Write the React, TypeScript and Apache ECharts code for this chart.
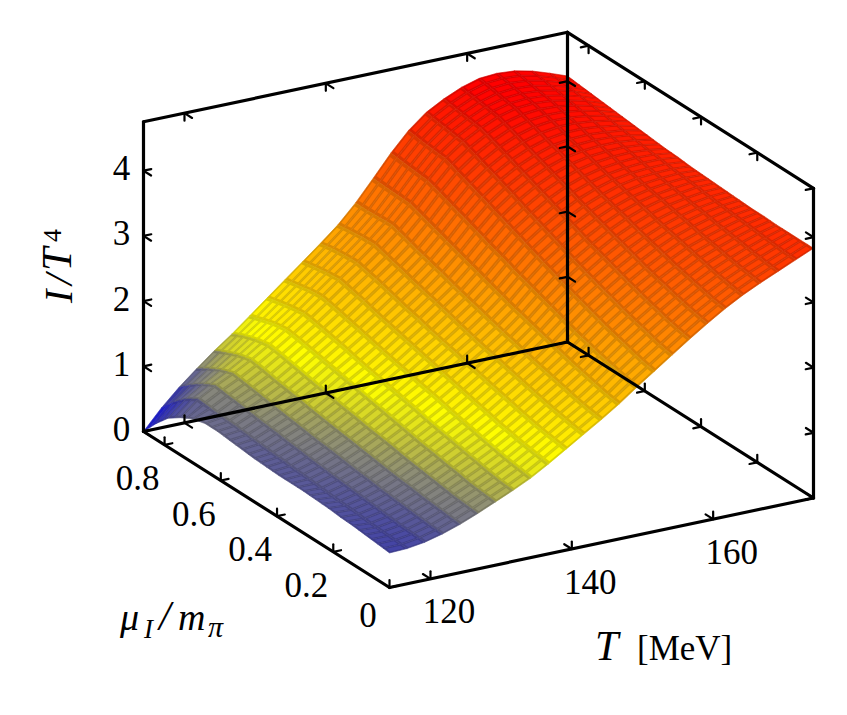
import React, { useEffect, useRef } from "react";
import * as echarts from "echarts";

// Temperature grid [MeV]
const temperatures = [114.2,116.7,119.2,121.7,124.2,126.7,129.2,131.7,134.2,136.7,139.2,141.7,144.2,146.7,149.2,151.7,154.2,156.7,159.2,161.7,164.2,166.7,169.2,171.7,174.2];
// Isospin chemical potential grid
const muValues = [0,0.044,0.088,0.131,0.175,0.219,0.263,0.306,0.35,0.394,0.438,0.481,0.525,0.569,0.613,0.656,0.7,0.744,0.788,0.831,0.875];

// I/T^4, one list per mu value
const I00 = [.53,.54,.58,.65,.74,.85,.97,1.09,1.22,1.38,1.55,1.72,1.89,2.07,2.27,2.46,2.65,2.84,3.02,3.19,3.34,3.47,3.59,3.71,3.83];
const I01 = [.55,.55,.59,.66,.76,.87,.99,1.11,1.25,1.41,1.58,1.75,1.92,2.10,2.31,2.50,2.69,2.88,3.06,3.22,3.37,3.50,3.61,3.72,3.83];
const I02 = [.57,.56,.60,.68,.78,.89,1.01,1.14,1.28,1.44,1.61,1.79,1.96,2.15,2.36,2.56,2.75,2.93,3.11,3.27,3.41,3.53,3.64,3.74,3.83];
const I03 = [.59,.57,.62,.70,.80,.92,1.05,1.18,1.32,1.48,1.65,1.83,2.01,2.20,2.41,2.62,2.81,2.99,3.16,3.32,3.46,3.57,3.67,3.76,3.83];
const I04 = [.60,.59,.64,.72,.83,.95,1.08,1.22,1.36,1.52,1.70,1.88,2.06,2.25,2.47,2.68,2.87,3.05,3.22,3.37,3.51,3.61,3.70,3.78,3.84];
const I05 = [.62,.60,.66,.74,.85,.98,1.12,1.26,1.41,1.57,1.75,1.93,2.11,2.31,2.53,2.75,2.94,3.12,3.28,3.43,3.56,3.65,3.73,3.80,3.84];
const I06 = [.63,.61,.68,.77,.88,1.01,1.15,1.30,1.45,1.62,1.80,1.98,2.16,2.37,2.60,2.82,3.01,3.19,3.35,3.49,3.61,3.70,3.77,3.82,3.85];
const I07 = [.64,.63,.70,.79,.91,1.05,1.19,1.34,1.50,1.67,1.85,2.03,2.22,2.43,2.67,2.89,3.08,3.26,3.42,3.55,3.66,3.74,3.80,3.84,3.86];
const I08 = [.64,.65,.72,.82,.94,1.08,1.23,1.39,1.55,1.72,1.90,2.08,2.27,2.49,2.74,2.97,3.16,3.33,3.49,3.62,3.72,3.79,3.83,3.87,3.87];
const I09 = [.64,.66,.74,.85,.97,1.11,1.27,1.43,1.59,1.77,1.95,2.13,2.33,2.55,2.81,3.05,3.24,3.41,3.56,3.68,3.77,3.83,3.87,3.89,3.88];
const I10 = [.65,.68,.77,.87,1.00,1.15,1.31,1.47,1.64,1.82,2.00,2.19,2.39,2.62,2.88,3.13,3.32,3.49,3.63,3.74,3.83,3.88,3.90,3.91,3.89];
const I11 = [.66,.69,.79,.90,1.03,1.18,1.35,1.51,1.68,1.87,2.05,2.25,2.45,2.69,2.96,3.21,3.40,3.57,3.71,3.81,3.88,3.92,3.94,3.94,3.91];
const I12 = [.68,.71,.82,.93,1.06,1.22,1.39,1.55,1.73,1.92,2.11,2.31,2.51,2.76,3.03,3.29,3.48,3.65,3.78,3.88,3.94,3.97,3.98,3.96,3.92];
const I13 = [.70,.73,.84,.96,1.10,1.25,1.43,1.60,1.78,1.97,2.16,2.36,2.58,2.83,3.11,3.37,3.57,3.73,3.86,3.95,4.00,4.02,4.02,3.99,3.94];
const I14 = [.72,.75,.87,.99,1.13,1.29,1.47,1.65,1.83,2.02,2.22,2.42,2.64,2.90,3.19,3.45,3.65,3.81,3.93,4.02,4.06,4.07,4.05,4.02,3.96];
const I15 = [.72,.76,.90,1.02,1.16,1.33,1.51,1.69,1.88,2.08,2.28,2.48,2.70,2.97,3.26,3.53,3.73,3.89,4.01,4.09,4.13,4.13,4.10,4.05,3.98];
const I16 = [.67,.78,.92,1.05,1.20,1.37,1.55,1.73,1.93,2.13,2.33,2.54,2.77,3.04,3.34,3.61,3.81,3.97,4.09,4.16,4.19,4.18,4.14,4.08,4.00];
const I17 = [.57,.80,.95,1.08,1.23,1.40,1.58,1.77,1.97,2.18,2.38,2.60,2.84,3.11,3.41,3.69,3.89,4.04,4.16,4.23,4.25,4.23,4.18,4.11,4.02];
const I18 = [.44,.68,.85,1.01,1.18,1.36,1.55,1.74,1.95,2.16,2.37,2.59,2.83,3.12,3.43,3.71,3.92,4.07,4.19,4.26,4.28,4.26,4.21,4.14,4.04];
const I19 = [.24,.51,.72,.91,1.10,1.30,1.49,1.70,1.91,2.13,2.35,2.57,2.82,3.13,3.45,3.73,3.95,4.10,4.22,4.30,4.32,4.30,4.24,4.16,4.06];
const I20 = [0,.30,.56,.79,1.01,1.21,1.43,1.65,1.87,2.09,2.31,2.54,2.82,3.14,3.47,3.76,3.98,4.13,4.25,4.33,4.35,4.33,4.27,4.18,4.08];
const surface = [I00,I01,I02,I03,I04,I05,I06,I07,I08,I09,I10,I11,I12,I13,I14,I15,I16,I17,I18,I19,I20];

// Axes
const tTicks = [120, 140, 160];
const muTicks = [0, 0.2, 0.4, 0.6, 0.8];
const muTickLabels = ["0", "0.2", "0.4", "0.6", "0.8"];
const zTicks = [0, 1, 2, 3, 4];
const T_MIN = 114.2, T_MAX = 174.2, MU_MIN = 0, MU_MAX = 0.875, Z_MIN = 0, Z_MAX = 4.75;

// Palette stops: value, r, g, b
const palette: number[][] = [
  [0, 10, 10, 235],
  [0.54, 68, 68, 165],
  [0.9, 140, 140, 120],
  [1.15, 205, 205, 50],
  [1.42, 255, 255, 0],
  [4.3, 255, 0, 0],
];

const SERIF = '"Liberation Serif", "DejaVu Serif", serif';

function colour(z: number, k: number) {
  let a = palette[0], b = palette[palette.length - 1];
  if (z <= a[0]) b = a;
  else for (let i = 1; i < palette.length; i++) {
    if (z <= palette[i][0]) { a = palette[i - 1]; b = palette[i]; break; }
    a = palette[i];
  }
  const f = b[0] === a[0] ? 0 : (z - a[0]) / (b[0] - a[0]);
  const c = [1, 2, 3].map((n) => Math.round((a[n] + (b[n] - a[n]) * f) * k));
  return `rgb(${c[0]},${c[1]},${c[2]})`;
}

function project(T: number, mu: number, z: number) {
  const t = (T - T_MIN) / (T_MAX - T_MIN);
  const s = (mu - MU_MIN) / (MU_MAX - MU_MIN);
  return [389.5 + 424 * t - 246 * s, 587.5 - 89.5 * t - 156 * s - 65.2 * z];
}

type P3 = [number, number, number];

function buildSegments() {
  const seg: [P3, P3][] = [];
  const a = T_MIN, b = T_MAX, m = MU_MAX, n = MU_MIN, z0 = Z_MIN, z1 = Z_MAX;
  seg.push([[a, n, z0], [b, n, z0]], [[a, n, z0], [a, m, z0]], [[a, m, z0], [b, m, z0]], [[b, n, z0], [b, m, z0]]);
  seg.push([[a, m, z0], [a, m, z1]], [[b, m, z0], [b, m, z1]], [[b, n, z0], [b, n, z1]]);
  seg.push([[a, m, z1], [b, m, z1]], [[b, m, z1], [b, n, z1]]);
  return seg;
}

function buildTicks() {
  const seg: [P3, P3][] = [];
  const dT = 1.1, dMu = 0.027, dZ = 0.115;
  for (const T of tTicks) {
    seg.push([[T, MU_MIN, 0], [T, MU_MIN + dMu, 0]], [[T, MU_MIN, 0], [T, MU_MIN, dZ]]);
    seg.push([[T, MU_MAX, 0], [T, MU_MAX - dMu, 0]], [[T, MU_MAX, 0], [T, MU_MAX, dZ]]);
    seg.push([[T, MU_MAX, Z_MAX], [T, MU_MAX - dMu, Z_MAX]], [[T, MU_MAX, Z_MAX], [T, MU_MAX, Z_MAX - dZ]]);
  }
  for (const mu of muTicks) {
    seg.push([[T_MIN, mu, 0], [T_MIN + dT, mu, 0]], [[T_MIN, mu, 0], [T_MIN, mu, dZ]]);
    seg.push([[T_MAX, mu, 0], [T_MAX - dT, mu, 0]], [[T_MAX, mu, 0], [T_MAX, mu, dZ]]);
    seg.push([[T_MAX, mu, Z_MAX], [T_MAX - dT, mu, Z_MAX]], [[T_MAX, mu, Z_MAX], [T_MAX, mu, Z_MAX - dZ]]);
  }
  for (const z of zTicks) {
    seg.push([[T_MIN, MU_MAX, z], [T_MIN + dT, MU_MAX, z]], [[T_MIN, MU_MAX, z], [T_MIN, MU_MAX - dMu, z]]);
    seg.push([[T_MAX, MU_MAX, z], [T_MAX - dT, MU_MAX, z]], [[T_MAX, MU_MAX, z], [T_MAX, MU_MAX - dMu, z]]);
    seg.push([[T_MAX, MU_MIN, z], [T_MAX - dT, MU_MIN, z]], [[T_MAX, MU_MIN, z], [T_MAX, MU_MIN + dMu, z]]);
  }
  return seg;
}

export default function App() {
  const ref = useRef<HTMLDivElement>(null);
  useEffect(() => {
    if (!ref.current) return;
    document.body.style.margin = "0";
    const chart = echarts.init(ref.current, undefined, { renderer: "svg" });

    // painter's order: back corner first
    const cells: number[][] = [];
    for (let i = muValues.length - 2; i >= 0; i--)
      for (let j = temperatures.length - 2; j >= 0; j--) cells.push([j, i]);

    const edges = buildSegments();
    const ticks = buildTicks();

    const segmentItem = (list: [P3, P3][], width: number) => (params: any, api: any) => {
      const [p, q] = list[params.dataIndex];
      const a = api.coord(project(p[0], p[1], p[2]));
      const b = api.coord(project(q[0], q[1], q[2]));
      return {
        type: "line", silent: true,
        shape: { x1: a[0], y1: a[1], x2: b[0], y2: b[1] },
        style: { stroke: "#000", lineWidth: width, lineCap: "round", fill: null },
      };
    };

    const labels: { text: string; x: number; y: number }[] = [];
    tTicks.forEach((T) => { const p = project(T, MU_MIN, 0); labels.push({ text: String(T), x: p[0] + 18.5, y: p[1] + 33 }); });
    muTicks.forEach((mu, k) => {
      const p = project(T_MIN, mu, 0);
      labels.push({ text: muTickLabels[k], x: p[0] + (mu === 0 ? -21.5 : -27), y: p[1] + (mu === 0 ? 28 : 33.5) });
    });
    zTicks.forEach((z) => { const p = project(T_MIN, MU_MAX, z); labels.push({ text: String(z), x: p[0] - 22, y: p[1] - 2 }); });

    const txt = (text: string, x: number, y: number, font: string) => ({
      type: "text", x, y, silent: true,
      style: { text, fill: "#000", font, align: "left", verticalAlign: "bottom" },
    });

    chart.setOption({
      animation: false,
      backgroundColor: "#fff",
      grid: { left: 0, right: 0, top: 0, bottom: 0 },
      xAxis: { type: "value", min: 0, max: 847, show: false },
      yAxis: { type: "value", min: 0, max: 715, inverse: true, show: false },
      tooltip: { show: false },
      series: [
        {
          type: "custom", coordinateSystem: "cartesian2d", clip: false, silent: true, z: 1,
          data: cells,
          renderItem: (params: any, api: any) => {
            const [j, i] = cells[params.dataIndex];
            const T0 = temperatures[j], T1 = temperatures[j + 1];
            const m0 = muValues[i], m1 = muValues[i + 1];
            const z00 = surface[i][j], z10 = surface[i][j + 1], z01 = surface[i + 1][j], z11 = surface[i + 1][j + 1];
            const zAt = (u: number, v: number) => z00 * (1 - u) * (1 - v) + z10 * u * (1 - v) + z01 * (1 - u) * v + z11 * u * v;
            const at = (u: number, v: number) => api.coord(project(T0 + (T1 - T0) * u, m0 + (m1 - m0) * v, zAt(u, v)));
            // Foreshortened cells near the silhouette show no light dashes
            const a = at(0, 0), b = at(1, 0), c = at(0, 1);
            const ex = b[0] - a[0], ey = b[1] - a[1];
            const width = Math.abs(ex * (c[1] - a[1]) - ey * (c[0] - a[0])) / Math.hypot(ex, ey);
            const strip = (v0: number, v1: number) => {
              const z = zAt(0.5, (v0 + v1) / 2);
              const base = colour(z, width < 5 ? 0.92 : 0.85);
              return {
                type: "polygon", silent: true,
                shape: { points: [at(0, v0), at(1, v0), at(1, v1), at(0, v1)] },
                style: { fill: base, stroke: base, lineWidth: 0.6 },
              };
            };
            const dash = (v0: number, v1: number) => ({
              type: "polygon", silent: true,
              shape: { points: [at(0.12, v0), at(0.88, v0), at(0.88, v1), at(0.12, v1)] },
              style: { fill: colour(zAt(0.5, (v0 + v1) / 2), 1), stroke: null },
            });
            const children: any[] = [strip(0, 0.5), strip(0.5, 1)];
            if (width >= 5) children.push(dash(0.1, 0.4), dash(0.6, 0.9));
            return { type: "group", silent: true, children };
          },
        },
        {
          type: "custom", coordinateSystem: "cartesian2d", clip: false, silent: true, z: 2,
          data: edges.map((_, k) => [k, k]),
          renderItem: segmentItem(edges, 3.2),
        },
        {
          type: "custom", coordinateSystem: "cartesian2d", clip: false, silent: true, z: 3,
          data: ticks.map((_, k) => [k, k]),
          renderItem: segmentItem(ticks, 2.2),
        },
        {
          type: "custom", coordinateSystem: "cartesian2d", clip: false, silent: true, z: 4,
          data: labels.map((_, k) => [k, k]),
          renderItem: (params: any, api: any) => {
            const l = labels[params.dataIndex];
            const c = api.coord([l.x, l.y]);
            return {
              type: "text", silent: true, x: c[0], y: c[1],
              style: { text: l.text, fill: "#000", font: `35px ${SERIF}`, align: "center", verticalAlign: "middle" },
            };
          },
        },
      ],
      graphic: [
        {
          type: "group", x: 78, y: 303, rotation: Math.PI / 2, silent: true,
          children: [
            txt("I", 0, 0, `italic 40px ${SERIF}`),
            txt("/", 18, 0, `italic 40px ${SERIF}`),
            txt("T", 32, 0, `italic 42px ${SERIF}`),
            txt("4", 61, -13, `26px ${SERIF}`),
          ],
        },
        txt("μ", 120, 636, `italic 38px ${SERIF}`),
        txt("I", 144, 642, `italic 27px ${SERIF}`),
        txt("/", 159, 637, `italic 42px ${SERIF}`),
        txt("m", 178, 636, `italic 38px ${SERIF}`),
        txt("π", 208, 641, `italic 30px ${SERIF}`),
        txt("T", 595, 667, `italic 42px ${SERIF}`),
        txt("[MeV]", 637, 666, `35px ${SERIF}`),
      ],
    });
    return () => chart.dispose();
  }, []);
  return <div ref={ref} style={{ width: 847, height: 715 }} />;
}
